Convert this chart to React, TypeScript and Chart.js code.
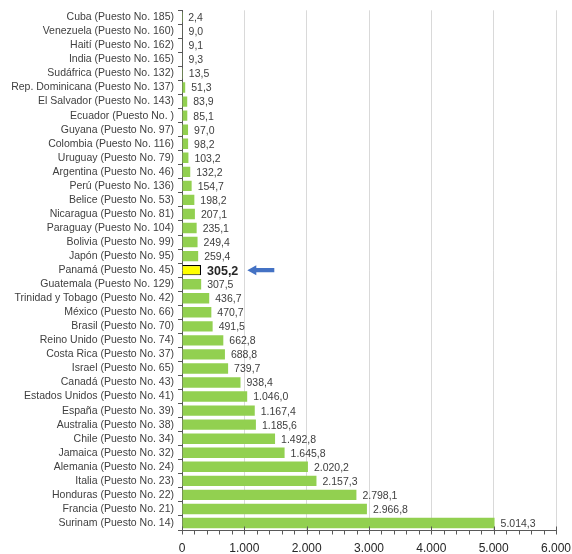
import React, { useEffect, useRef } from "react";
import { Chart, registerables } from "chart.js";
Chart.register(...registerables);

const countries = ["Cuba","Venezuela","Haití","India","Sudáfrica","Rep. Dominicana","El Salvador","Ecuador","Guyana","Colombia","Uruguay","Argentina","Perú","Belice","Nicaragua","Paraguay","Bolivia","Japón","Panamá","Guatemala","Trinidad y Tobago","México","Brasil","Reino Unido","Costa Rica","Israel","Canadá","Estados Unidos","España","Australia","Chile","Jamaica","Alemania","Italia","Honduras","Francia","Surinam"];
const ranks = ["185","160","162","165","132","137","143","","97","116","79","46","136","53","81","104","99","95","45","129","42","66","70","74","37","65","43","41","39","38","34","32","24","23","22","21","14"];
const values = [2.4,9.0,9.1,9.3,13.5,51.3,83.9,85.1,97.0,98.2,103.2,132.2,154.7,198.2,207.1,235.1,249.4,259.4,305.2,307.5,436.7,470.7,491.5,662.8,688.8,739.7,938.4,1046.0,1167.4,1185.6,1492.8,1645.8,2020.2,2157.3,2798.1,2966.8,5014.3];
const highlight = "Panamá";
const xMax = 6000;
const xMajorStep = 1000;
const xMinorStep = 200;

const labels = countries.map((c, i) => `${c} (Puesto No. ${ranks[i]})`);
const FONT = "'Liberation Sans', Arial, sans-serif";
const TEXT = "#404040";

function fmt(v: number, dec: number) {
  const s = v.toFixed(dec);
  const [intPart, decPart] = s.split(".");
  const grouped = intPart.replace(/\B(?=(\d{3})+(?!\d))/g, ".");
  return decPart ? `${grouped},${decPart}` : grouped;
}

const overlay = {
  id: "overlay",
  afterDatasetsDraw(chart: any) {
    const ctx = chart.ctx;
    const meta = chart.getDatasetMeta(0);
    const xs = chart.scales.x;
    const area = chart.chartArea;
    ctx.save();
    ctx.strokeStyle = "#595959";
    ctx.lineWidth = 1;
    ctx.beginPath();
    const yb = Math.round(area.bottom) + 0.5;
    ctx.moveTo(area.left, yb);
    ctx.lineTo(area.right, yb);
    for (let v = 0; v <= xMax; v += xMinorStep) {
      const px = Math.round(xs.getPixelForValue(v)) + 0.5;
      const major = v % xMajorStep === 0;
      ctx.moveTo(px, yb + (major ? -4 : 0));
      ctx.lineTo(px, yb + 4);
    }
    ctx.stroke();
    ctx.textBaseline = "middle";
    ctx.textAlign = "left";
    meta.data.forEach((bar: any, i: number) => {
      const isH = countries[i] === highlight;
      ctx.font = isH ? `bold 12.5px ${FONT}` : `10.5px ${FONT}`;
      ctx.fillStyle = isH ? "#262626" : TEXT;
      const text = fmt(values[i], 1);
      const x0 = bar.x + 6;
      ctx.fillText(text, x0, bar.y + 1);
      if (isH) {
        const w = ctx.measureText(text).width;
        const ax = x0 + w + 9;
        const ay = bar.y;
        const len = 27, headL = 9, headH = 5, shaft = 2.2;
        ctx.fillStyle = "#4472C4";
        ctx.beginPath();
        ctx.moveTo(ax, ay);
        ctx.lineTo(ax + headL, ay - headH);
        ctx.lineTo(ax + headL, ay - shaft);
        ctx.lineTo(ax + len, ay - shaft);
        ctx.lineTo(ax + len, ay + shaft);
        ctx.lineTo(ax + headL, ay + shaft);
        ctx.lineTo(ax + headL, ay + headH);
        ctx.closePath();
        ctx.fill();
      }
    });
    ctx.restore();
  },
};

export default function App() {
  const ref = useRef<HTMLCanvasElement | null>(null);
  useEffect(() => {
    if (!ref.current) return;
    const chart = new Chart(ref.current, {
      type: "bar",
      data: {
        labels,
        datasets: [
          {
            data: values,
            backgroundColor: countries.map((c) => (c === highlight ? "#FFFF00" : "#92D050")),
            borderColor: countries.map((c) => (c === highlight ? "#000000" : "rgba(0,0,0,0)")),
            borderWidth: countries.map((c) => (c === highlight ? 1.2 : 0)),
            barPercentage: 0.74,
            categoryPercentage: 1,
          },
        ],
      },
      options: {
        indexAxis: "y",
        animation: false,
        responsive: false,
        maintainAspectRatio: false,
        layout: { padding: { top: 4, right: 0, left: 0, bottom: 0 } },
        plugins: { legend: { display: false }, tooltip: { enabled: false } },
        scales: {
          x: {
            min: 0,
            max: xMax,
            ticks: {
              stepSize: xMajorStep,
              color: "#262626",
              font: { family: FONT, size: 12 },
              callback: (v: any) => fmt(Number(v), 0),
              padding: 11,
            },
            grid: { color: "#D9D9D9", drawTicks: false },
            border: { display: false },
            afterFit: (s: any) => { s.height = 24; s.paddingRight = 16; },
          },
          y: {
            ticks: {
              color: TEXT,
              font: { family: FONT, size: 10.5 },
              padding: 4,
              autoSkip: false,
            },
            grid: { offset: true, drawOnChartArea: false, drawTicks: true, tickLength: 4, color: "#595959" },
            border: { display: true, color: "#595959" },
            afterFit: (s: any) => { s.width = 182; },
          },
        },
      },
      plugins: [overlay],
    });
    return () => chart.destroy();
  }, []);
  return (
    <div style={{ position: "fixed", left: 0, top: 0, width: 572, height: 554, background: "#fff" }}>
      <canvas ref={ref} width={572} height={554} style={{ width: 572, height: 554 }} />
    </div>
  );
}
